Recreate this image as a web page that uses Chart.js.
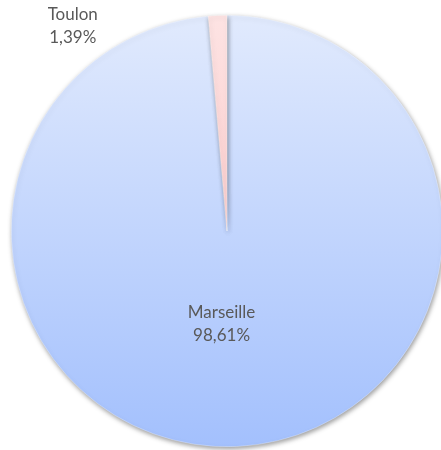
<!DOCTYPE html>
<html><head><meta charset="utf-8">
<script src="https://cdn.jsdelivr.net/npm/chart.js@4/dist/chart.umd.min.js"></script>
<style>html,body{margin:0;padding:0;background:#fff;overflow:hidden;width:441px;height:450px}
#wrap{position:absolute;left:0;top:0;width:460px;height:450px}</style>
</head><body>
<div id="wrap"><canvas id="c" width="460" height="450"></canvas></div>
<script>
const categories = ["Marseille", "Toulon"];
const shares = [98.61, 1.39];

function grad(ctx, area, c1, c2){
  const g = ctx.createLinearGradient(0, area.top, 0, area.bottom);
  g.addColorStop(0, c1); g.addColorStop(1, c2); return g;
}
const fmt = v => v.toFixed(2).replace('.', ',') + '%';

const shadowPlugin = {
  id: 'shadow',
  beforeDatasetDraw(chart){ const c = chart.ctx; c.save();
    c.shadowColor = 'rgba(0,0,0,0.4)'; c.shadowBlur = 5; c.shadowOffsetX = 1; c.shadowOffsetY = 2; },
  afterDatasetDraw(chart){ chart.ctx.restore(); }
};
const labelPlugin = {
  id: 'labels',
  afterDatasetsDraw(chart){
    const c = chart.ctx; const meta = chart.getDatasetMeta(0);
    c.save(); c.fillStyle = '#595959'; c.font = '17px Lato, "Open Sans", sans-serif';
    c.textAlign = 'center'; c.textBaseline = 'middle';
    meta.data.forEach((arc, i) => {
      const p = arc.getProps(['x','y','startAngle','endAngle','outerRadius']);
      let x, y;
      if (i === 0) {
        const mid = (p.startAngle + p.endAngle) / 2;
        x = p.x + Math.cos(mid) * p.outerRadius * 0.433 - 9.5;
        y = p.y + Math.sin(mid) * p.outerRadius * 0.433;
      } else {
        x = p.x - p.outerRadius * 0.715;
        y = p.y - p.outerRadius * 0.948;
      }
      c.fillText(categories[i], x, y - 11.5);
      c.fillText(fmt(shares[i]), x, y + 11.5);
    });
    c.restore();
  }
};

new Chart(document.getElementById('c'), {
  type: 'pie',
  data: { labels: categories, datasets: [{
    data: shares,
    backgroundColor: (ctx) => {
      const a = ctx.chart.chartArea; if (!a) return '#c0d4fd';
      return ctx.dataIndex === 0 ? grad(ctx.chart.ctx, a, '#e1eafd', '#a3c0fd')
                                 : grad(ctx.chart.ctx, a, '#fde3e3', '#fbb8b8');
    },
    borderColor: 'rgba(255,255,255,0.6)', borderWidth: 0.5
  }]},
  options: {
    responsive: false, animation: false, devicePixelRatio: 1,
    layout: { padding: { left: 11, right: 17, top: 15, bottom: 3 } },
    plugins: { legend: { display: false }, tooltip: { enabled: false } }
  },
  plugins: [shadowPlugin, labelPlugin]
});
</script>
</body></html>
